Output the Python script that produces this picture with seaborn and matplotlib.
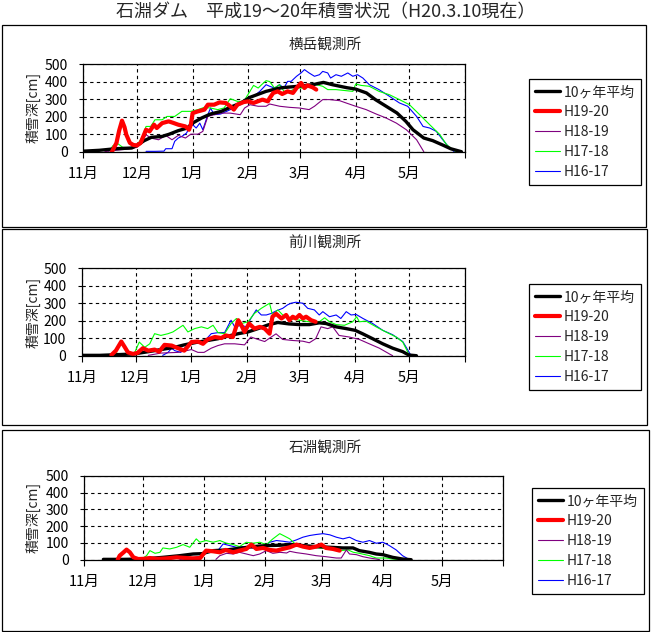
import matplotlib
matplotlib.use("Agg")
import matplotlib.pyplot as plt
import numpy as np
import pandas as pd
import seaborn as sns
from matplotlib.patches import Rectangle
from matplotlib.lines import Line2D

sns.set_theme(style="ticks")
plt.rcParams["font.family"] = ["Noto Sans CJK JP", "DejaVu Sans"]

# ---------------- data ----------------
title = "石淵ダム　平成19～20年積雪状況（H20.3.10現在）"
stations = ["横岳観測所", "前川観測所", "石淵観測所"]
month_labels = ["11月", "12月", "1月", "2月", "3月", "4月", "5月"]
series_names = ["10ヶ年平均", "H19-20", "H18-19", "H17-18", "H16-17"]
season_start = "2007-11-01"
ylabel = "積雪深[cm]"

# --- 横岳観測所 (days since Nov 1, depth cm)
yoko_avg_d = [0, 9, 18, 27, 30, 34, 38, 44, 48, 53, 58, 61, 66, 71, 77, 82, 88, 93, 98, 102, 108, 111, 120, 128, 134, 139, 147, 152, 158, 163, 169, 175, 180, 184, 190, 195, 201, 205, 211]
yoko_avg_v = [3, 8, 17, 21, 36, 63, 82, 87, 100, 120, 135, 163, 192, 215, 230, 253, 278, 310, 329, 344, 359, 365, 373, 382, 395, 382, 365, 357, 335, 297, 259, 221, 173, 125, 78, 63, 36, 17, 0]
yoko_h19_d = [16, 18.5, 20, 21.6, 23, 24, 26, 28, 30, 32, 35, 37, 39.5, 41, 44, 47.6, 50, 53, 57, 59, 60, 61, 64, 67.6, 69.5, 73, 76, 79.5, 82, 84, 86, 89.5, 92, 95, 100, 103, 104, 106, 108.5, 111, 114, 117, 119, 121.5, 123.4, 125, 128, 130]
yoko_h19_v = [0, 50, 120, 177, 140, 97, 50, 38, 36, 50, 125, 116, 154, 135, 163, 173, 165, 154, 144, 125, 154, 220, 230, 240, 268, 268, 281, 278, 259, 240, 268, 283, 287, 278, 297, 287, 306, 335, 344, 329, 344, 335, 363, 392, 363, 378, 367, 354]
yoko_h18_d = [12, 18, 25, 30, 33, 35, 37.6, 42, 46, 49.5, 53, 57, 60, 64, 66.7, 69.5, 73, 76.7, 82, 87.6, 90, 93, 97.6, 102, 104, 109.6, 115, 120.6, 126, 129, 133.6, 137.4, 143, 146.6, 152, 157.8, 163.4, 169, 174.7, 180.3, 186, 190]
yoko_h18_v = [0, 8, 15, 25, 60, 97, 78, 68, 93, 68, 93, 78, 100, 100, 116, 201, 211, 220, 220, 211, 249, 268, 259, 259, 272, 259, 253, 249, 240, 259, 297, 297, 291, 278, 259, 240, 215, 192, 163, 125, 68, 0]
yoko_h17_d = [14, 16.7, 19.5, 22, 27.6, 30, 33, 35, 37.6, 40, 44, 46.7, 51, 55, 60, 64, 67.6, 71, 75, 78.5, 82, 86, 89.5, 93, 95, 97.6, 99.5, 102, 104, 106.7, 109.5, 112, 115, 119, 122.5, 126, 130, 133.6, 136.4, 141, 146.6, 150.4, 152, 155, 159.6, 165, 170.8, 176.4, 182, 187.7, 193.3, 199, 202.7, 206.4, 208]
yoko_h17_v = [0, 36, 44, 25, 21, 36, 87, 144, 144, 182, 182, 201, 201, 230, 230, 240, 253, 249, 240, 249, 302, 287, 287, 344, 378, 363, 382, 405, 400, 363, 382, 344, 344, 363, 363, 373, 382, 373, 354, 354, 348, 344, 386, 378, 373, 344, 325, 297, 268, 211, 154, 97, 40, 11, 0]
yoko_h16_d = [35, 40, 44, 45, 46, 49.5, 51, 53, 55, 57.6, 59.5, 61, 63, 65, 66.7, 69.5, 71, 73, 76.7, 80, 84, 87.6, 91, 95, 98.5, 102, 104, 106.7, 109.5, 112, 114, 116, 119, 121.5, 123.4, 126, 129, 131.8, 133.6, 136.4, 138, 141, 144, 147.6, 150.4, 153, 156, 159.6, 165, 170.8, 176.4, 181, 186, 189.6, 193.3, 197, 200.6, 204.4, 207]
yoko_h16_v = [2, 2, 3, 3, 17, 17, 59, 78, 87, 106, 144, 154, 135, 163, 125, 211, 249, 211, 215, 230, 249, 268, 297, 316, 344, 382, 373, 363, 382, 363, 401, 401, 430, 449, 468, 449, 430, 439, 458, 449, 420, 439, 430, 449, 430, 439, 420, 382, 354, 316, 278, 259, 201, 144, 135, 116, 68, 21, 0]

# --- 前川観測所
mae_avg_d = [0, 10, 20, 29, 37, 44, 51.7, 57, 64.6, 70, 75.7, 81.3, 87, 92.4, 98, 103.5, 109, 115, 121, 126.5, 132, 135.8, 141.4, 147, 152, 156, 161.7, 167.3, 172.8, 178.4, 181.7, 186]
mae_avg_v = [2, 2, 6, 10, 23, 35, 48, 62, 78, 87, 97, 112, 126, 136, 155, 176, 190, 182, 178, 178, 188, 184, 165, 155, 145, 126, 97, 68, 43, 23, 4, 0]
mae_h19_d = [16.5, 19, 22, 24, 25.7, 28.5, 31, 34, 37, 40.5, 43, 46, 50, 53.5, 57, 61, 64.6, 67.4, 70, 74, 77.6, 80, 84, 87, 88.7, 90.5, 93, 96, 99, 101.7, 104.4, 106, 108, 111, 113.6, 115.4, 117.3, 119, 121, 122.9, 124.7, 127.5, 130]
mae_h19_v = [4, 29, 81, 48, 19, 10, 16, 43, 29, 35, 23, 62, 58, 43, 29, 78, 81, 68, 93, 107, 101, 116, 107, 203, 174, 136, 184, 155, 165, 155, 126, 223, 240, 213, 233, 203, 223, 213, 233, 213, 223, 203, 194]
mae_h18_d = [37, 44, 53.5, 61, 64.6, 68, 72, 75.7, 79.4, 85, 90.5, 94, 98, 101.7, 104.3, 108, 111.7, 117.3, 122.9, 126.5, 130, 133, 136.7, 139.5, 143, 148.6, 154.3, 159.8, 165.4, 171, 172.8]
mae_h18_v = [2, 15, 19, 35, 19, 19, 43, 58, 68, 68, 62, 107, 93, 81, 100, 125, 93, 87, 83, 74, 97, 165, 155, 165, 116, 107, 93, 68, 43, 10, 0]
mae_h17_d = [15.5, 18, 22, 29, 32, 35, 37.8, 40.5, 44, 48, 50.7, 53.5, 56.3, 59, 62.8, 66.5, 70, 73, 75.7, 79.4, 83, 86, 88.7, 92.4, 96, 99.8, 104.4, 106, 109, 111.7, 115.4, 121, 126.5, 132, 135, 137.7, 141.4, 146, 150.6, 152.8, 154.3, 158, 163.6, 169, 174.7, 178.4, 181.7, 183]
mae_h17_v = [2, 19, 8, 8, 78, 48, 68, 126, 116, 126, 136, 155, 174, 136, 155, 165, 155, 174, 132, 126, 184, 213, 184, 194, 242, 271, 300, 233, 262, 233, 213, 203, 194, 194, 217, 194, 178, 174, 194, 223, 194, 198, 165, 136, 107, 78, 10, 0]
mae_h16_d = [45, 48, 50, 51.7, 55, 57, 61, 64.6, 68, 72, 75.7, 79.4, 83, 85, 88.7, 91.5, 94, 97, 99.8, 102.6, 105.4, 108, 111.7, 114.4, 116.3, 119, 122.9, 125.6, 129.3, 132, 134, 137.7, 141.4, 144, 147, 149.7, 152.5, 156.3, 161.7, 167.3, 172.8, 178.4, 182, 183]
mae_h16_v = [2, 19, 43, 29, 19, 43, 68, 78, 81, 126, 132, 132, 203, 165, 174, 165, 213, 262, 233, 233, 242, 256, 271, 291, 300, 306, 300, 271, 262, 233, 252, 223, 233, 213, 252, 233, 236, 213, 184, 145, 120, 81, 19, 0]

# --- 石淵観測所
ishi_avg_d = [9.7, 20, 30, 40, 48.6, 55.4, 60, 65.6, 72.4, 79, 86, 92.7, 99.5, 104.6, 111.3, 118, 125, 131.7, 136.8, 140, 145, 148.6, 152, 157, 162, 166.4]
ishi_avg_v = [2, 2, 4, 14, 24, 34, 36, 54, 58, 68, 78, 84, 86, 90, 84, 78, 74, 70, 70, 54, 44, 34, 30, 14, 4, 0]
ishi_h19_d = [17, 18, 20, 21.5, 23.2, 25, 27.5, 30, 33.4, 37, 42, 47, 52, 55, 59, 62, 65.6, 69, 72, 75.8, 79, 82.5, 85, 87.6, 91, 94.4, 97.8, 101, 104.6, 108, 111.3, 114.7, 118, 120.7, 123, 126.6, 130]
ishi_h19_v = [0, 24, 44, 60, 44, 14, 4, 5, 10, 5, 8, 14, 10, 8, 10, 54, 50, 44, 58, 44, 54, 64, 90, 64, 70, 58, 54, 64, 74, 90, 78, 70, 78, 90, 70, 64, 54]
ishi_h18_d = [67, 69, 72.4, 75.8, 79, 82.5, 86, 89.3, 92.7, 96, 99.5, 103, 104.6, 108, 113, 118, 123, 128.3, 130.8, 133.4, 135, 138.5, 141.8, 145.2, 148.6, 150.3]
ishi_h18_v = [2, 24, 38, 34, 44, 34, 24, 34, 54, 38, 44, 40, 50, 42, 34, 24, 18, 10, 10, 58, 34, 30, 18, 10, 4, 0]
ishi_h17_d = [29, 31.7, 33.4, 36, 38.5, 40, 43.5, 47, 50.3, 53.7, 57, 58.8, 62, 65.6, 69, 72.4, 75.8, 79, 82.5, 86, 89.3, 92.7, 96, 99.5, 103, 104.6, 107, 109.6, 114.7, 120, 125, 130, 134.3, 137, 140, 145.2, 148.6, 153.7, 157, 160.5]
ishi_h17_v = [2, 24, 54, 38, 44, 70, 64, 74, 90, 74, 124, 104, 114, 104, 114, 98, 90, 78, 104, 98, 104, 90, 124, 155, 134, 124, 98, 84, 74, 70, 64, 54, 58, 44, 38, 24, 10, 10, 4, 0]
ishi_h16_d = [48.6, 53.7, 58.8, 61.4, 64, 67.3, 70.7, 74, 77.5, 80.8, 84, 87.6, 91, 94.4, 97.8, 101, 104.6, 108, 111.3, 114.7, 118, 121.5, 125, 128.3, 131.7, 135, 138.5, 141.8, 145.2, 148.6, 152, 155.3, 158.8, 162, 165.6]
ishi_h16_v = [2, 8, 18, 44, 54, 44, 94, 84, 74, 78, 74, 64, 74, 104, 114, 110, 104, 118, 134, 144, 150, 155, 148, 134, 124, 134, 114, 104, 114, 98, 104, 84, 58, 24, 0]

panel_data = [
    [(yoko_avg_d, yoko_avg_v), (yoko_h19_d, yoko_h19_v), (yoko_h18_d, yoko_h18_v), (yoko_h17_d, yoko_h17_v), (yoko_h16_d, yoko_h16_v)],
    [(mae_avg_d, mae_avg_v), (mae_h19_d, mae_h19_v), (mae_h18_d, mae_h18_v), (mae_h17_d, mae_h17_v), (mae_h16_d, mae_h16_v)],
    [(ishi_avg_d, ishi_avg_v), (ishi_h19_d, ishi_h19_v), (ishi_h18_d, ishi_h18_v), (ishi_h17_d, ishi_h17_v), (ishi_h16_d, ishi_h16_v)],
]

# ---------------- styles ----------------
colors = {"10ヶ年平均": "#000000", "H19-20": "#FF0000", "H18-19": "#800080",
          "H17-18": "#00FF00", "H16-17": "#0000FF"}
widths = {"10yr": 2.4, "H19-20": 3.0, "other": 0.8}
draw_order = [4, 3, 2, 0, 1]

W, H = 651, 632
fig = plt.figure(figsize=(W / 100, H / 100), dpi=100)
fig.patch.set_facecolor("white")


def fr(l, t, r, b):
    return [l / W, 1 - b / H, (r - l) / W, (b - t) / H]


# panel frames (left, top, right, bottom in px)
boxes = [(2, 25, 646, 226.5), (2, 228.5, 647, 425), (2, 430, 649, 631)]
for (l, t, r, b) in boxes:
    fig.patches.append(Rectangle((l / W, 1 - b / H), (r - l) / W, (b - t) / H,
                                 transform=fig.transFigure, fill=False,
                                 edgecolor="black", linewidth=0.9))

axes_px = [(83.3, 64, 465, 151.7), (81.7, 268.3, 465, 355.7), (84.3, 475.7, 502.7, 559.7)]
title_y = [46, 243.5, 449]
legend_pos = [(529, 79), (529, 284), (532, 488)]

start = pd.Timestamp(season_start)
month_ticks = list(pd.date_range(start, periods=8, freq="MS"))

fig.text(326 / W, 1 - 12.5 / H, title, ha="center", va="center", fontsize=13)

for p, (l, t, r, b) in enumerate(axes_px):
    ax = fig.add_axes(fr(l, t, r, b))
    ax.set_facecolor("white")
    handles = {}
    for i in draw_order:
        name = series_names[i]
        d, v = panel_data[p][i]
        df = pd.DataFrame({"date": start + pd.to_timedelta(d, unit="D"), "depth": v})
        lw = widths["10yr"] if i == 0 else (widths["H19-20"] if i == 1 else widths["other"])
        sns.lineplot(data=df, x="date", y="depth", ax=ax, color=colors[name],
                     linewidth=lw, estimator=None, sort=False, legend=False)
        handles[name] = Line2D([0], [0], color=colors[name], linewidth=lw)
    ax.set_xlim(start, month_ticks[-1])
    ax.set_ylim(0, 500)
    ax.set_yticks(range(0, 501, 100))
    ax.set_xticks(month_ticks)
    ax.set_xticklabels(month_labels + [""])
    ax.grid(True, color="black", linestyle=(0, (3, 3)), linewidth=0.8)
    for s in ax.spines.values():
        s.set_color("black")
        s.set_linewidth(0.9)
        s.set_visible(True)
    ax.tick_params(axis="x", length=4, width=0.8, pad=7, labelsize=10.5, colors="black")
    ax.tick_params(axis="y", length=3, width=0.8, pad=8, labelsize=10, colors="black")
    ax.set_xlabel("")
    ax.set_ylabel(ylabel, fontsize=10, va="center")
    ax.yaxis.set_label_coords((33 - l) / (r - l), 0.5)
    fig.text(325 / W, 1 - title_y[p] / H, stations[p], ha="center", va="center", fontsize=10.5)
    lx, ly = legend_pos[p]
    leg = fig.legend([handles[n] for n in series_names], series_names,
                     loc="upper left", bbox_to_anchor=(lx / W, 1 - ly / H),
                     frameon=True, fancybox=False, framealpha=1, edgecolor="black",
                     fontsize=10, handlelength=1.8, handletextpad=0.25,
                     borderpad=0.45, labelspacing=0.42, borderaxespad=0)
    leg.get_frame().set_linewidth(0.9)

fig.savefig("out.png", dpi=100, facecolor="white")
